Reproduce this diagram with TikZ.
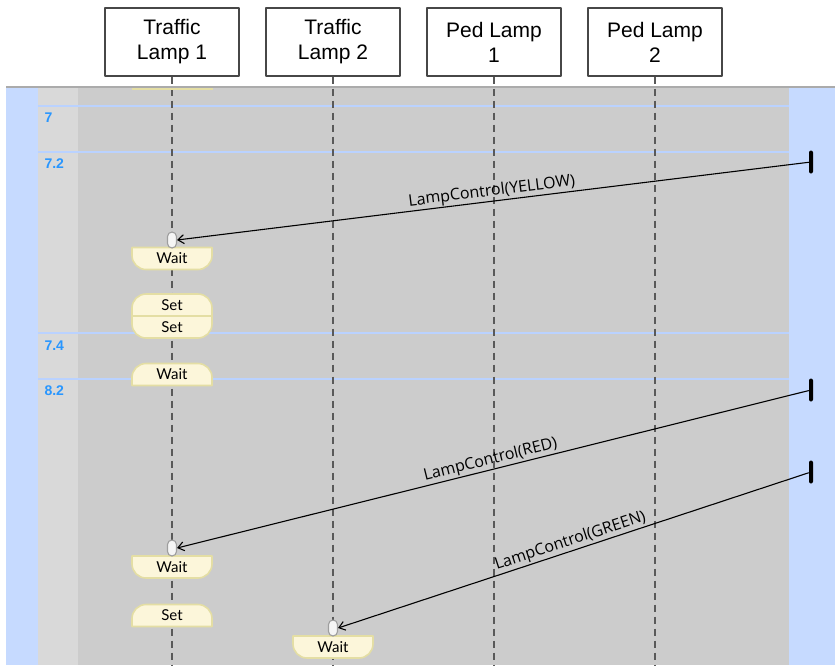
\documentclass[tikz,border=0pt]{standalone}
\usepackage{fontspec}
\setmainfont{Liberation Sans}
\newfontfamily\msgfont{Open Sans}
\newfontfamily\actfont{Lato}
\usetikzlibrary{arrows.meta}
\definecolor{laneblue}{RGB}{198,218,255}
\definecolor{rowblue}{RGB}{186,210,255}
\definecolor{timeblue}{RGB}{40,150,255}
\definecolor{bandgray}{RGB}{204,204,204}
\definecolor{colgray}{RGB}{217,217,217}
\definecolor{actfill}{RGB}{252,246,218}
\definecolor{actline}{RGB}{228,222,164}
\begin{document}
\begin{tikzpicture}[x=1pt, y=-1pt, line join=round,
  lamp/.style={draw=black!72, line width=1.3pt, fill=white, minimum width=134pt, minimum height=68pt, align=center, inner sep=0pt, font=\fontsize{21}{25}\selectfont},
  life/.style={draw=black!65, line width=1.3pt, dash pattern=on 7pt off 5pt},
  act/.style={inner sep=0pt, font=\actfont\fontsize{15}{17}\selectfont},
  actbox/.style={draw=actline, fill=actfill, line width=1.6pt},
  pill/.style={draw=black!38, fill=black!4, line width=1.1pt, rounded corners=4.5pt, minimum width=9pt, minimum height=16pt, inner sep=0pt},
  tickbar/.style={fill=black, rounded corners=2pt, minimum width=4pt, minimum height=23pt, inner sep=0pt},
  msg/.style={-{Straight Barb[length=6pt,width=9pt]}, line width=1.1pt},
  msglabel/.style={font=\msgfont\fontsize{16}{18}\selectfont, above, sloped, midway, inner sep=1pt},
  timelabel/.style={anchor=base west, text=timeblue, font=\bfseries\fontsize{14}{16}\selectfont}]
  \useasboundingbox (0,0) rectangle (835,665);
  % lanes
  \fill[laneblue] (6,87) rectangle (38,665);
  \fill[colgray] (38,87) rectangle (78,665);
  \fill[bandgray] (78,87) rectangle (789,665);
  \fill[laneblue] (789,87) rectangle (835,665);
  \draw[black!33, line width=2pt] (6,87) -- (835,87);
  \foreach \y in {106,152,333,379} \draw[rowblue, line width=2.8pt] (38,\y) -- (789,\y);
  \node[timelabel] (t1) at (41,122) {7};
  \node[timelabel] (t2) at (41,168) {7.2};
  \node[timelabel] (t3) at (41,350) {7.4};
  \node[timelabel] (t4) at (41,395) {8.2};
  % lamps and lifelines
  \node[lamp] (tl1) at (172,42) {Traffic\\Lamp 1};
  \node[lamp] (tl2) at (333,42) {Traffic\\Lamp 2};
  \node[lamp] (pl1) at (494,42) {Ped Lamp\\1};
  \node[lamp] (pl2) at (655,42) {Ped Lamp\\2};
  \coordinate (bottom) at (0,665);
  \foreach \n in {tl1,tl2,pl1,pl2} \draw[life] (\n.south) -- (\n.south |- bottom);
  \draw[actline, line width=2pt] (132,89) -- (213,89);
  % activities
  \foreach \n/\x/\y/\t in {w1/172/258.5/Wait, s2/172/327/Set, w3/172/567/Wait, w4/333/647/Wait}{
    \path[actbox] (\x-40,\y-11) -- (\x-40,\y-3) .. controls (\x-40,\y+4.7) and (\x-33.7,\y+11) .. (\x-26,\y+11) -- (\x+26,\y+11) .. controls (\x+33.7,\y+11) and (\x+40,\y+4.7) .. (\x+40,\y-3) -- (\x+40,\y-11) -- cycle;
    \node[act] (\n) at (\x,\y) {\t};
  }
  \foreach \n/\x/\y/\t in {s1/172/305/Set, w2/172/374.5/Wait, s3/172/615.5/Set}{
    \path[actbox] (\x-40,\y+11) -- (\x-40,\y+3) .. controls (\x-40,\y-4.7) and (\x-33.7,\y-11) .. (\x-26,\y-11) -- (\x+26,\y-11) .. controls (\x+33.7,\y-11) and (\x+40,\y-4.7) .. (\x+40,\y+3) -- (\x+40,\y+11) -- cycle;
    \node[act] (\n) at (\x,\y) {\t};
  }
  \node[pill] (p1) at (172,240) {};
  \node[pill] (p3) at (172,548) {};
  \node[pill] (p4) at (333,628) {};
  % messages
  \node[tickbar] (b1) at (811,162) {};
  \node[tickbar] (b2) at (811,390) {};
  \node[tickbar] (b3) at (811,472) {};
  \draw[msg] (b1) -- (p1.east) node[msglabel] {LampControl(YELLOW)};
  \draw[msg] (b2) -- (p3.east) node[msglabel] {LampControl(RED)};
  \draw[msg] (b3) -- (p4.east) node[msglabel] {LampControl(GREEN)};
\end{tikzpicture}
\end{document}
